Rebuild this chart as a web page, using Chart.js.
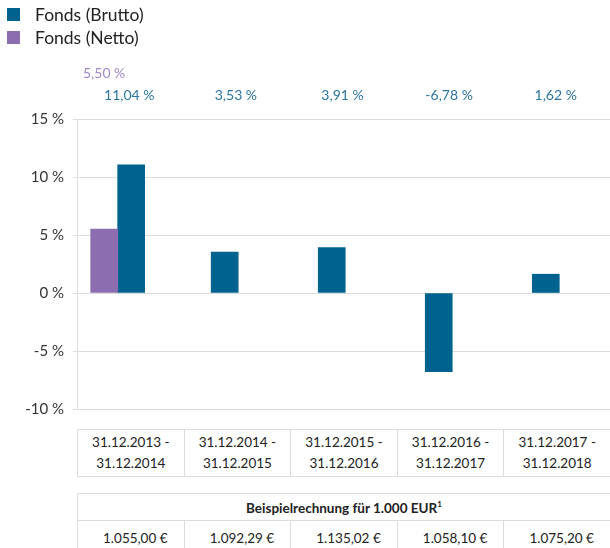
<!DOCTYPE html>
<html>
<head>
<meta charset="utf-8">
<script src="https://cdn.jsdelivr.net/npm/chart.js@4/dist/chart.umd.min.js"></script>
<style>
body { margin: 0; background: #fff; font-family: Lato, sans-serif; color: #222; }
#wrap { position: relative; width: 610px; height: 548px; overflow: hidden; }
#chart { position: absolute; left: 0; top: 0; }
#legend { position: absolute; left: 7px; top: 3px; font-size: 17.5px; color: #222; }
.lg { display: flex; align-items: center; height: 23px; }
.lg .box { width: 13px; height: 13px; margin-right: 15px; }
table { position: absolute; left: 77px; width: 534px; border-collapse: collapse; table-layout: fixed; font-size: 13.5px; }
td { border: 1px solid #dcdcdc; text-align: center; padding: 0; }
#periods { top: 429px; }
#periods td { padding: 2px 0; line-height: 21px; }
#example { top: 493px; }
#example .head td { height: 25px; font-weight: bold; padding-top: 1px; }
#example .vals td { height: 33px; padding-left: 9px; }
sup { font-size: 8px; vertical-align: 6px; }
</style>
</head>
<body>
<div id="wrap">
  <canvas id="chart" width="610" height="427"></canvas>
  <div id="legend"></div>
  <table id="periods"><tr></tr></table>
  <table id="example">
    <tr class="head"><td colspan="5">Beispielrechnung für 1.000 EUR<sup>1</sup></td></tr>
    <tr class="vals"></tr>
  </table>
</div>
<script>
var categories = ['31.12.2013 -<br>31.12.2014', '31.12.2014 -<br>31.12.2015', '31.12.2015 -<br>31.12.2016', '31.12.2016 -<br>31.12.2017', '31.12.2017 -<br>31.12.2018'];
var brutto = [11.04, 3.53, 3.91, -6.78, 1.62];
var netto = [5.50, null, null, null, null];
var example = ['1.055,00 €', '1.092,29 €', '1.135,02 €', '1.058,10 €', '1.075,20 €'];
var yTicks = [-10, -5, 0, 5, 10, 15];

var blue = '#00628f';
var purple = '#8c6daf';
var font = 'Lato, sans-serif';

function pct(v) {
    return v.toFixed(2).replace('.', ',') + ' %';
}

// tables below the chart
document.querySelector('#periods tr').innerHTML = categories.map(function (c) { return '<td>' + c + '</td>'; }).join('');
document.querySelector('#example .vals').innerHTML = example.map(function (c) { return '<td>' + c + '</td>'; }).join('');

// legend (stacked vertically)
var legendItems = [['Fonds (Brutto)', blue], ['Fonds (Netto)', purple]];
document.getElementById('legend').innerHTML = legendItems.map(function (l) {
    return '<div class="lg"><span class="box" style="background:' + l[1] + '"></span>' + l[0] + '</div>';
}).join('');

// value labels above the plot
var valueLabels = {
    id: 'valueLabels',
    afterDraw: function (chart) {
        var ctx = chart.ctx;
        var area = chart.chartArea;
        var colW = (area.right - area.left) / brutto.length;
        ctx.save();
        ctx.font = '14px ' + font;
        ctx.textAlign = 'center';
        ctx.textBaseline = 'middle';
        ctx.fillStyle = '#2a76a0';
        brutto.forEach(function (v, i) {
            ctx.fillText(pct(v), area.left + (i + 0.5) * colW - 1, area.top - 24);
        });
        ctx.fillStyle = '#a088c4';
        var meta = chart.getDatasetMeta(0);
        netto.forEach(function (v, i) {
            if (v === null) return;
            ctx.fillText(pct(v), meta.data[i].x, area.top - 46);
        });
        ctx.restore();
    }
};

var ctx = document.getElementById('chart').getContext('2d');
var chart = new Chart(ctx, {
    type: 'bar',
    data: {
        datasets: [{
            label: 'Fonds (Netto)',
            data: netto.map(function (v, i) { return { x: i, y: v }; }),
            backgroundColor: purple
        }, {
            label: 'Fonds (Brutto)',
            data: brutto.map(function (v, i) { return { x: i, y: v }; }),
            backgroundColor: blue
        }]
    },
    options: {
        responsive: false,
        animation: false,
        datasets: {
            bar: { barThickness: 27, skipNull: true }
        },
        layout: {
            padding: { top: 119, bottom: 10, left: 0, right: 0 }
        },
        scales: {
            x: {
                type: 'linear',
                display: false,
                offset: false,
                min: -0.38,
                max: 4.6
            },
            y: {
                min: -10,
                max: 15,
                afterBuildTicks: function (scale) {
                    scale.ticks = yTicks.map(function (v) { return { value: v }; });
                },
                afterFit: function (scale) { scale.width = 77; },
                ticks: {
                    color: '#333',
                    padding: 9,
                    font: { size: 15, family: font },
                    callback: function (v) { return v + ' %'; }
                },
                grid: { color: '#dcdcdc', tickLength: 4 },
                border: { color: '#dcdcdc' }
            }
        },
        plugins: {
            legend: { display: false },
            tooltip: { enabled: false }
        }
    },
    plugins: [valueLabels]
});
</script>
</body>
</html>
